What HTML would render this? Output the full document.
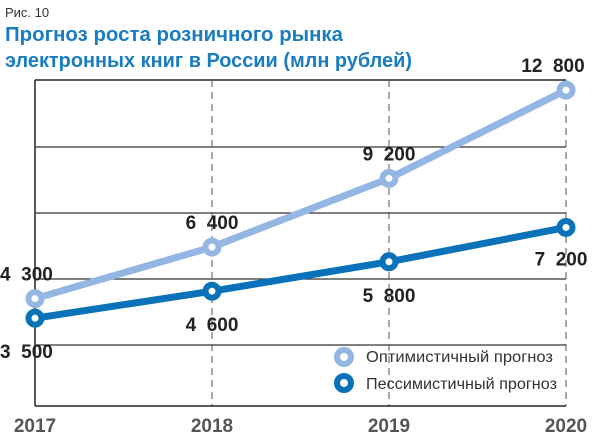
<!DOCTYPE html>
<html><head><meta charset="utf-8"><style>
body{margin:0;background:#fff;width:600px;height:437px;overflow:hidden;font-family:"Liberation Sans",sans-serif}
svg{display:block}
text{white-space:pre}
</style></head><body>
<svg width="600" height="437">
<text x="5" y="17" font-size="13" fill="#333">Рис. 10</text>
<text x="5" y="41" font-size="20.5" font-weight="bold" fill="#1a7cc1" textLength="338" lengthAdjust="spacingAndGlyphs">Прогноз роста розничного рынка</text>
<text x="5" y="67" font-size="20.5" font-weight="bold" fill="#1a7cc1" textLength="407" lengthAdjust="spacingAndGlyphs">электронных книг в России (млн рублей)</text>
<g id="grid"></g>
<g id="series"></g>
<g id="labels"></g>
<g>
<circle cx="344" cy="357" r="7" fill="#fff" stroke="#93b6e2" stroke-width="6"/>
<text x="366" y="362" font-size="15.5" fill="#333" textLength="187" lengthAdjust="spacingAndGlyphs">Оптимистичный прогноз</text>
<circle cx="344" cy="383" r="7" fill="#fff" stroke="#0a72b8" stroke-width="6"/>
<text x="366" y="389" font-size="15.5" fill="#333" textLength="191" lengthAdjust="spacingAndGlyphs">Пессимистичный прогноз</text>
</g>
</svg>
<script>
const years=["2017","2018","2019","2020"];
const optimistic=[4300,6400,9200,12800];
const pessimistic=[3500,4600,5800,7200];
const optLabels=["4  300","6  400","9  200","12  800"];
const pesLabels=["3  500","4  600","5  800","7  200"];
const NS="http://www.w3.org/2000/svg";
const x0=35,x1=566,yZero=404,pxPer=0.02452;
function xs(i){return x0+i*(x1-x0)/(years.length-1);}
function ys(v){return yZero-v*pxPer;}
function mk(tag,attrs,parent){const e=document.createElementNS(NS,tag);for(const k in attrs)e.setAttribute(k,attrs[k]);parent.appendChild(e);return e;}
const grid=document.getElementById('grid');
[80,147,213,279,345].forEach(y=>{const l=mk('line',{x1:x0,x2:x1,y1:y,y2:y,stroke:y==80?'#222':'#333','stroke-width':y==80?1.5:1.2},grid);

});
for(let i=1;i<years.length;i++){const l=mk('line',{x1:xs(i),x2:xs(i),y1:80,y2:406,stroke:'#555','stroke-width':1,'stroke-dasharray':'7,5'},grid);

}
const ax=mk('line',{x1:x0,x2:x0,y1:80,y2:406,stroke:'#222','stroke-width':1.5},grid);


const bx=mk('line',{x1:x0,x2:x1,y1:406,y2:406,stroke:'#222','stroke-width':1.5},grid);


const ser=document.getElementById('series');
function drawSeries(vals,color,name){
 const pts=vals.map((v,i)=>xs(i)+','+ys(v)).join(' ');
 const pl=mk('polyline',{points:pts,fill:'none',stroke:color,'stroke-width':7,'stroke-linejoin':'round'},ser);
 
 
 vals.forEach((v,i)=>{const c=mk('circle',{cx:xs(i),cy:ys(v),r:6.5,fill:'#fff',stroke:color,'stroke-width':6},ser);
 
 });
}
drawSeries(optimistic,'#93b6e2','optimistic');
drawSeries(pessimistic,'#0a72b8','pessimistic');
const lab=document.getElementById('labels');
function txt(s,x,y,anchor,name,size,color){const t=mk('text',{x:x,y:y,'text-anchor':anchor,'font-size':size,'font-weight':'bold',fill:color},lab);t.textContent=s;

}
const optOff=[[-35,-18,'start'],[0,-18,'middle'],[0,-18,'middle'],[-13,-18,'middle']];
const pesOff=[[-35,40,'start'],[0,40,'middle'],[0,40,'middle'],[-5,38,'middle']];
optimistic.forEach((v,i)=>txt(optLabels[i],xs(i)+optOff[i][0],ys(v)+optOff[i][1],optOff[i][2],'optimistic-value-label',19,'#222'));
pessimistic.forEach((v,i)=>txt(pesLabels[i],xs(i)+pesOff[i][0],ys(v)+pesOff[i][1],pesOff[i][2],'pessimistic-value-label',19,'#222'));
years.forEach((y,i)=>txt(y,Math.min(xs(i),576),432,'middle','x-tick-label',19,'#555'));
</script>
</body></html>
